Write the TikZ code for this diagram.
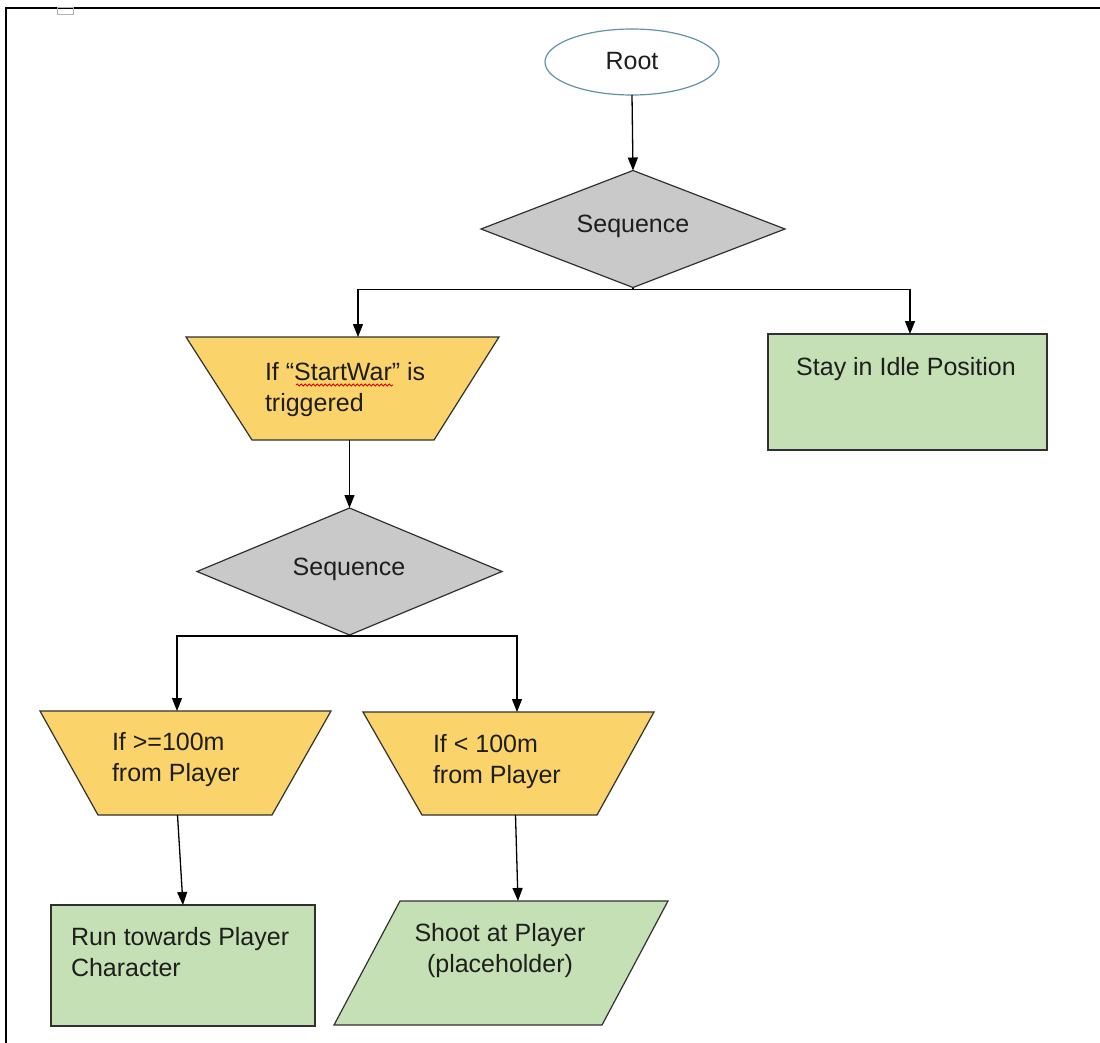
\documentclass[tikz,border=0pt]{standalone}
\usepackage{fontspec}
\setmainfont{Liberation Sans}
\usetikzlibrary{shapes.geometric,arrows.meta,decorations.pathmorphing,calc}
\definecolor{ygold}{HTML}{FAD46A}
\definecolor{lgreen}{HTML}{C5E0B4}
\definecolor{lgray}{HTML}{C9C9C9}
\definecolor{rootline}{HTML}{6391A8}
\definecolor{linec}{HTML}{303030}
\definecolor{txtc}{HTML}{1E1E1E}
\begin{document}
\begin{tikzpicture}[x=1pt,y=-1pt,
  shp/.style={draw=linec, line width=1.2pt, inner sep=0pt, outer sep=0pt},
  txt/.style={font=\fontsize{25}{31}\selectfont, text=txtc, inner sep=0pt, outer sep=0pt},
  arr/.style={draw=black, line width=1.3pt, -{Triangle[length=13pt,width=10pt]}},
  dia/.style={shp, diamond, fill=lgray},
  trapbox/.style={rectangle, inner sep=0pt, outer sep=0pt},
  trapdraw/.style={draw=linec, line width=1.2pt, fill=ygold},
  act/.style={shp, rectangle, fill=lgreen}]
\useasboundingbox (0,0) rectangle (1100,1043);
% frame
\draw[line width=2pt] (1100,8) -- (6,8) -- (6,1043);
\draw[gray!60, line width=1pt] (57,8) rectangle (73,15);
% shapes
\node[shp, ellipse, draw=rootline, fill=white, minimum width=174pt, minimum height=66pt] (root) at (632,62) {};
\node[dia, minimum width=304pt, minimum height=117pt] (seq1) at (633,229) {};
\node[trapbox, minimum width=313pt, minimum height=103pt] (trap1) at (342.5,388.5) {};
\draw[trapdraw] (trap1.north west) -- (trap1.north east) -- ([xshift=-65pt]trap1.south east) -- ([xshift=66pt]trap1.south west) -- cycle;
\node[act, minimum width=279pt, minimum height=116pt] (idle) at (907.5,392) {};
\node[dia, minimum width=305pt, minimum height=127pt] (seq2) at (349.5,571.5) {};
\node[trapbox, minimum width=291pt, minimum height=104pt] (trapL) at (185.5,763) {};
\draw[trapdraw] (trapL.north west) -- (trapL.north east) -- ([xshift=-59pt]trapL.south east) -- ([xshift=58pt]trapL.south west) -- cycle;
\node[trapbox, minimum width=291pt, minimum height=103pt] (trapR) at (508.5,763.5) {};
\draw[trapdraw] (trapR.north west) -- (trapR.north east) -- ([xshift=-57pt]trapR.south east) -- ([xshift=59pt]trapR.south west) -- cycle;
\node[act, minimum width=264pt, minimum height=121pt] (run) at (183,965.5) {};
\node[act, xslant=0.532, minimum width=268pt, minimum height=124pt] (shoot) at (501,963) {};
% texts
\node[txt, anchor=base] (troot) at (632,70) {Root};
\node[txt, anchor=base] (tseq1) at (633,233) {Sequence};
\node[txt, anchor=base west] (ttrap1) at (265,380) {\begin{tabular}[t]{@{}l@{}}If “StartWar” is\\ triggered\end{tabular}};
\draw[red!85!black, line width=0.8pt, decorate, decoration={snake, amplitude=1.1pt, segment length=4pt}] (296,385) -- (393,385);
\node[txt, anchor=base] (tidle) at (906,375) {Stay in Idle Position};
\node[txt, anchor=base] (tseq2) at (349,575) {Sequence};
\node[txt, anchor=base west] (ttrapL) at (112,750) {\begin{tabular}[t]{@{}l@{}}If >=100m\\ from Player\end{tabular}};
\node[txt, anchor=base west] (ttrapR) at (433,752) {\begin{tabular}[t]{@{}l@{}}If < 100m\\ from Player\end{tabular}};
\node[txt, anchor=base west] (trun) at (71,945) {\begin{tabular}[t]{@{}l@{}}Run towards Player\\ Character\end{tabular}};
\node[txt, anchor=base] (tshoot) at (500,941) {\begin{tabular}[t]{@{}c@{}}Shoot at Player\\ (placeholder)\end{tabular}};
% connectors
\coordinate (j1) at ([yshift=-2pt]seq1.south);
\coordinate (j2) at ([yshift=-1pt]seq2.south);
\draw[arr] (root.south) -- (seq1.north);
\draw[arr] (seq1.south) -- (j1) -| ([xshift=15.5pt]trap1.north);
\draw[arr] (j1) -| ([xshift=2.5pt]idle.north);
\draw[arr] (trap1.south -| seq2.north) -- (seq2.north);
\draw[arr] (seq2.south) -- (j2) -| ([xshift=-8.5pt]trapL.north);
\draw[arr] (j2) -| ([xshift=8.5pt]trapR.north);
\draw[arr] ([xshift=-8pt]trapL.south) -- (run.north);
\draw[arr] ([xshift=7pt]trapR.south) -- ([xshift=-16pt]shoot.north);
\end{tikzpicture}
\end{document}
